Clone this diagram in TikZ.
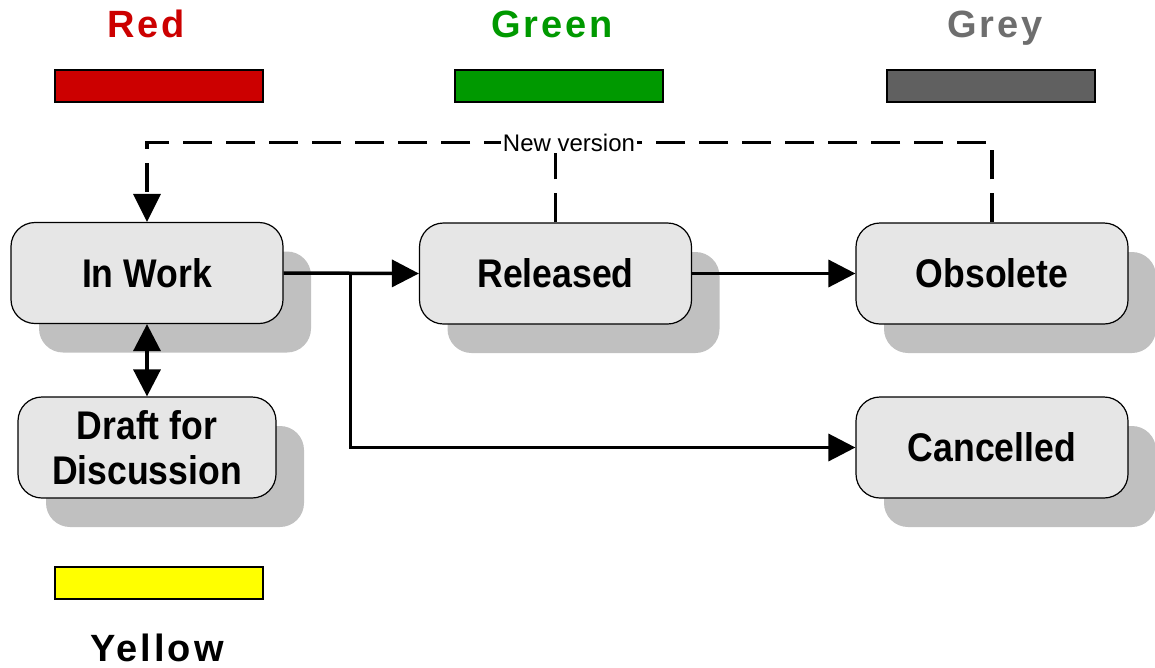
\documentclass[tikz,border=0pt]{standalone}
\usepackage{fontspec}
\setmainfont{Liberation Sans}
\newfontfamily\nodefont{Liberation Sans}[FakeStretch=0.89]
\newfontfamily\labelfont{Liberation Sans}[LetterSpace=8]
\usetikzlibrary{arrows.meta,shadows,calc}
\definecolor{myred}{HTML}{CC0000}
\definecolor{mygreen}{HTML}{009900}
\definecolor{mygreybar}{HTML}{606060}
\definecolor{mygreytext}{HTML}{6E6E6E}
\definecolor{myyellow}{HTML}{FFFF00}
\definecolor{nodefill}{HTML}{E6E6E6}
\definecolor{shadowgrey}{HTML}{C0C0C0}
\tikzset{
  state/.style={draw=black, line width=1.2pt, fill=nodefill, rounded corners=24pt,
    minimum width=272pt, minimum height=101pt, inner sep=0pt, align=center,
    font=\nodefont\bfseries\fontsize{40}{45}\selectfont,
    drop shadow={shadow xshift=28pt, shadow yshift=-29pt, fill=shadowgrey, opacity=1}},
  bar/.style={draw=black, line width=1.5pt, minimum width=208pt, minimum height=32pt, inner sep=0pt},
  colorlabel/.style={anchor=base, inner sep=0pt, font=\labelfont\bfseries\fontsize{38}{40}\selectfont},
  conn/.style={line width=3.5pt, -{Triangle[length=27pt,width=27pt]}},
  dconn/.style={line width=3.5pt, {Triangle[length=27pt,width=27pt]}-{Triangle[length=27pt,width=27pt]}},
  dashconn/.style={line width=3.5pt, dash pattern=on 29pt off 14pt},
}
\begin{document}
\begin{tikzpicture}[x=1pt,y=-1pt]
\useasboundingbox (0,0) rectangle (1155,667);
% colour labels and bars
\node[colorlabel, text=myred] (lred) at (146,37) {Red};
\node[colorlabel, text=mygreen] (lgreen) at (552,37) {Green};
\node[colorlabel, text=mygreytext] (lgrey) at (995,37) {Grey};
\node[colorlabel, text=black] (lyellow) at (157,661) {Yellow};
\node[bar, fill=myred] (bred) at (159,86) {};
\node[bar, fill=mygreen] (bgreen) at (559,86) {};
\node[bar, fill=mygreybar] (bgrey) at (991,86) {};
\node[bar, fill=myyellow] (byellow) at (159,583) {};
% states
\node[state] (iw) at (147,273) {In Work};
\node[state] (rel) at (555.5,273.5) {Released};
\node[state] (obs) at (992,273.5) {Obsolete};
\node[state, minimum width=258pt] (draft) at (147,447.5) {Draft for\\Discussion};
\node[state] (canc) at (992,447.5) {Cancelled};
% connectors
\coordinate (br) at ($(iw.east)+(67,0)$);
\draw[conn] (iw.east) -- (rel.west);
\draw[conn] (br) |- (canc.west);
\draw[conn] (rel.east) -- (obs.west);
\draw[dconn] (iw.south) -- (draft.north);
\coordinate (top) at ($(obs.north)+(0,-80)$);
\draw[dashconn, -{Triangle[length=28pt,width=27pt]}] (obs.north) -- (top) -| (iw.north);
\coordinate (reltop) at (rel.north |- top);
\draw[dashconn] (rel.north) -- (reltop);
\node[fill=white, inner sep=1.5pt, font=\fontsize{24}{26}\selectfont] (nv) at (569,143) {New version};
\end{tikzpicture}
\end{document}
